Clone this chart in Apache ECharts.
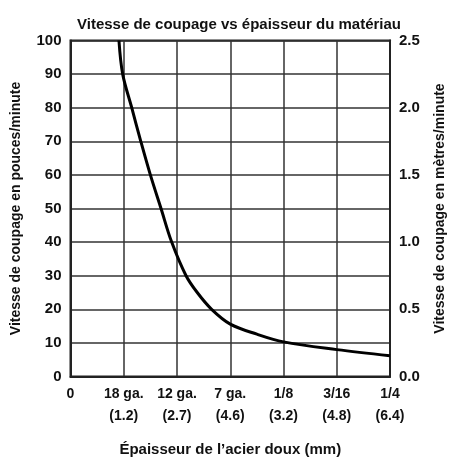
<!DOCTYPE html>
<html>
<head>
<meta charset="utf-8">
<script src="https://cdn.jsdelivr.net/npm/echarts@6/dist/echarts.min.js"></script>
<style>
  html, body { margin: 0; padding: 0; background: #fff; }
  #chart { width: 451px; height: 461px; }
</style>
</head>
<body>
<div id="chart"></div>
<script>
// épaisseurs (position sur l'axe x) et libellés
const xTickLabels = ['0', '18 ga.\n(1.2)', '12 ga.\n(2.7)', '7 ga.\n(4.6)', '1/8\n(3.2)', '3/16\n(4.8)', '1/4\n(6.4)']
// courbe : position x, vitesse en pouces/minute
const curveX = [0.91, 0.98, 1.15, 1.32, 1.50, 1.70, 1.90, 2.17, 2.38, 2.65, 3.0, 3.5, 4.0, 5.0, 6.0]
const curveIpm = [100, 90, 80, 70, 60, 50, 40, 30, 25, 20, 15.6, 12.6, 10.3, 8, 6.2]

const fontFamily = '"Liberation Sans", Arial, sans-serif'
const ink = '#111'

var chart = echarts.init(document.getElementById('chart'))

var option = {
    animation: false,
    textStyle: { fontFamily: fontFamily },
    title: {
        text: 'Vitesse de coupage vs épaisseur du matériau',
        left: 234,
        textAlign: 'center',
        top: 12,
        textStyle: { fontSize: 15, fontWeight: 'bold', color: ink, fontFamily: fontFamily }
    },
    grid: {
        left: 70.5,
        right: 61,
        top: 40.5,
        bottom: 84.5,
        outerBoundsMode: 'none',
        show: true,
        borderColor: '#222',
        borderWidth: 2
    },
    xAxis: {
        type: 'value',
        min: 0,
        max: 6,
        interval: 1,
        name: 'Épaisseur de l\u2019acier doux (mm)',
        nameLocation: 'middle',
        nameGap: 66,
        nameTextStyle: { fontSize: 15, fontWeight: 'bold', color: ink, fontFamily: fontFamily },
        axisLine: { show: true, lineStyle: { color: '#222', width: 2 } },
        axisTick: { show: false },
        axisLabel: {
            margin: 7,
            fontSize: 14,
            fontWeight: 'bold',
            color: ink,
            lineHeight: 22,
            verticalAlign: 'top',
            formatter: function (v) { return xTickLabels[Math.round(v)] }
        },
        splitLine: { show: true, lineStyle: { color: '#333', width: 1.5 } }
    },
    yAxis: [
        {
            type: 'value',
            min: 0,
            max: 100,
            interval: 10,
            position: 'left',
            name: 'Vitesse de coupage en pouces/minute',
            nameLocation: 'middle',
            nameGap: 47,
            nameTextStyle: { fontSize: 14, fontWeight: 'bold', color: ink, fontFamily: fontFamily },
            axisLine: { show: true, lineStyle: { color: '#222', width: 2 } },
            axisTick: { show: false },
            axisLabel: { margin: 9, fontSize: 15, fontWeight: 'bold', color: ink },
            splitLine: { show: true, lineStyle: { color: '#333', width: 1.5 } }
        },
        {
            type: 'value',
            min: 0,
            max: 2.5,
            interval: 0.5,
            position: 'right',
            name: 'Vitesse de coupage en mètres/minute',
            nameLocation: 'middle',
            nameGap: 43,
            nameTextStyle: { fontSize: 14, fontWeight: 'bold', color: ink, fontFamily: fontFamily },
            axisLine: { show: true, lineStyle: { color: '#222', width: 2 } },
            axisTick: { show: false },
            axisLabel: {
                margin: 9,
                fontSize: 15,
                fontWeight: 'bold',
                color: ink,
                formatter: function (v) { return v.toFixed(1) }
            },
            splitLine: { show: false }
        }
    ],
    series: [
        {
            type: 'line',
            smooth: 0.35,
            showSymbol: false,
            yAxisIndex: 0,
            lineStyle: { color: '#000', width: 3 },
            data: curveX.map((x, i) => [x, curveIpm[i]])
        }
    ]
}

chart.setOption(option)
</script>
</body>
</html>
